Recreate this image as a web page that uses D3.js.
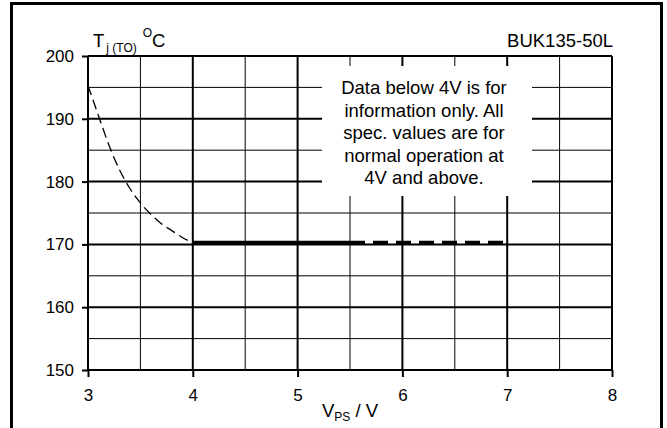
<!DOCTYPE html>
<html><head><meta charset="utf-8">
<script src="https://cdn.jsdelivr.net/npm/d3@7"></script>
<style>body{margin:0;background:#fff}svg text{font-family:"Liberation Sans",Arial,sans-serif;fill:#000}</style>
</head><body><svg id="c" width="667" height="428"></svg>
<script>
// data
const xTicks = [3,4,5,6,7,8];
const yTicks = [150,160,170,180,190,200];
const curveInfoX = [3, 3.1, 3.2, 3.3, 3.4, 3.5, 3.6, 3.7, 3.8, 3.9, 4];
const curveInfoY = [195.3, 190.5, 185.8, 181.9, 178.9, 176.6, 174.8, 173.3, 172.2, 171.1, 170.3];
const specSolidX = [4, 5.5];
const specSolidY = [170.3, 170.3];
const specDashX = [5.5, 7];
const specDashY = [170.3, 170.3];
const noteLines = ["Data below 4V is for","information only. All","spec. values are for","normal operation at","4V and above."];
const partName = "BUK135-50L";

const svg = d3.select("#c");
const x = d3.scaleLinear().domain([3,8]).range([88,612]);
const y = d3.scaleLinear().domain([150,200]).range([370,56]);

// outer frame
svg.append("rect").attr("x",11.5).attr("y",3.5).attr("width",650).attr("height",440)
  .attr("fill","none").attr("stroke","#000").attr("stroke-width",3);

const g = svg.append("g");
// minor grid
const minorX = d3.range(3.5,8,1), minorY = d3.range(155,200,10);
g.selectAll(".mx").data(minorX).enter().append("line")
  .attr("x1",d=>x(d)).attr("x2",d=>x(d)).attr("y1",y(150)).attr("y2",y(200))
  .attr("stroke","#000").attr("stroke-width",1);
g.selectAll(".my").data(minorY).enter().append("line")
  .attr("y1",d=>y(d)).attr("y2",d=>y(d)).attr("x1",x(3)).attr("x2",x(8))
  .attr("stroke","#000").attr("stroke-width",1);
// major grid
g.selectAll(".Mx").data(xTicks).enter().append("line")
  .attr("x1",d=>x(d)).attr("x2",d=>x(d)).attr("y1",y(150)).attr("y2",y(200))
  .attr("stroke","#000").attr("stroke-width",2);
g.selectAll(".My").data(yTicks).enter().append("line")
  .attr("y1",d=>y(d)).attr("y2",d=>y(d)).attr("x1",x(3)).attr("x2",x(8))
  .attr("stroke","#000").attr("stroke-width",2);

// axes
const xAxis = d3.axisBottom(x).tickValues(xTicks).tickSize(7).tickPadding(12).tickFormat(d3.format("d"));
const ax = svg.append("g").attr("transform",`translate(0,${y(150)})`).call(xAxis);
const yAxis = d3.axisLeft(y).tickValues(yTicks).tickSize(6).tickPadding(8).tickFormat(d3.format("d"));
const ay = svg.append("g").attr("transform",`translate(${x(3)},0)`).call(yAxis);
[ax,ay].forEach(a=>{
  a.select(".domain").remove();
  a.selectAll(".tick line").attr("stroke","#000").attr("stroke-width",2);
  a.selectAll(".tick text").attr("font-size",17).attr("font-family","Liberation Sans, Arial, sans-serif").attr("fill","#000");
});

// note box
svg.append("rect").attr("x",322).attr("y",66).attr("width",210).attr("height",130).attr("fill","#fff");
svg.append("g").selectAll("text").data(noteLines).enter().append("text")
  .attr("x",424).attr("y",(d,i)=>94+i*22.6).attr("text-anchor","middle").attr("font-size",18.5)
  .text(d=>d);

// curves
const line = d3.line().x(d=>x(d[0])).y(d=>y(d[1]));
const info = curveInfoX.map((v,i)=>[v,curveInfoY[i]]);
svg.append("path").datum(info).attr("d",line.curve(d3.curveMonotoneX))
  .attr("fill","none").attr("stroke","#000").attr("stroke-width",1.3).attr("stroke-dasharray","10,5");
const lin = d3.line().x(d=>x(d[0])).y(d=>y(d[1]));
svg.append("path").datum(specSolidX.map((v,i)=>[v,specSolidY[i]])).attr("d",lin)
  .attr("fill","none").attr("stroke","#000").attr("stroke-width",3.5);
svg.append("path").datum(specDashX.map((v,i)=>[v,specDashY[i]])).attr("d",lin)
  .attr("fill","none").attr("stroke","#000").attr("stroke-width",3.5).attr("stroke-dasharray","15,8");

// titles
const t = svg.append("text").attr("x",93).attr("y",47).attr("font-size",18.5);
t.append("tspan").text("T");
t.append("tspan").attr("font-size",12).attr("dx",2).attr("dy",5).text("j (TO)");
t.append("tspan").attr("font-size",12).attr("dx",6).attr("dy",-15).text("O");
t.append("tspan").attr("dy",10).text("C");
svg.append("text").attr("x",613).attr("y",47).attr("text-anchor","end").attr("font-size",18.5).text(partName);
const xl = svg.append("text").attr("x",322).attr("y",417).attr("font-size",18.5);
xl.append("tspan").text("V");
xl.append("tspan").attr("font-size",12).attr("dy",4).text("PS");
xl.append("tspan").attr("dy",-4).text(" / V");
</script></body></html>
